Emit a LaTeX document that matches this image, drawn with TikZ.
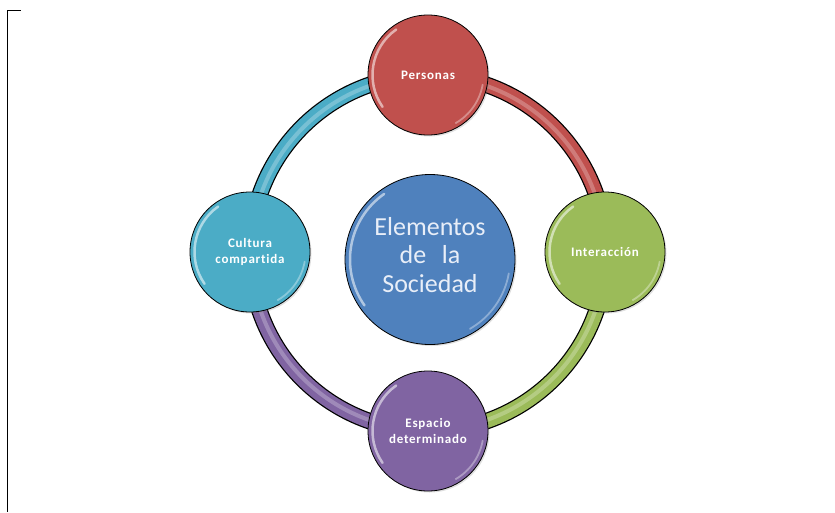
\documentclass[tikz,border=0pt]{standalone}
\usepackage{fontspec}
\setmainfont{Carlito}
\newfontfamily\labfont[LetterSpace=6,Ligatures={NoCommon,NoRare,NoContextual}]{Carlito}
\usetikzlibrary{shadows}
\definecolor{cred}{HTML}{C0504D}
\definecolor{cgreen}{HTML}{9BBB59}
\definecolor{cpurple}{HTML}{8064A2}
\definecolor{ccyan}{HTML}{4BACC6}
\definecolor{cblue}{HTML}{4F81BD}
\definecolor{ctext}{HTML}{E8EEF8}
\tikzset{
  ringblack/.style={black, line width=16.5pt},
  ringcol/.style={line width=14pt},
  ringshine/.style={white, opacity=.25, line width=4pt},
  bubble/.style={circle, draw=black, line width=0.8pt, minimum size=120pt, inner sep=0pt,
    text=white, align=center, font=\labfont\bfseries\fontsize{13}{16}\selectfont,
    drop shadow={opacity=.25, shadow xshift=1.5pt, shadow yshift=-1.5pt}},
  bigbubble/.style={bubble, minimum size=170pt},
  bigtext/.style={text=ctext, align=center, font=\fontsize{26}{28.4}\selectfont},
  shine/.style={white, opacity=.55, line width=2.5pt, line cap=round},
  shinelow/.style={white, opacity=.35, line width=1.8pt, line cap=round}
}
\begin{document}
\begin{tikzpicture}[x=1pt,y=1pt]
\useasboundingbox (0,0) rectangle (835,-512);
\coordinate (tl) at (20.5,-10.3);
\coordinate (tc) at (7.5,-10.3);
\coordinate (bl) at (7.5,-512);
\draw[line width=1pt] (tl) -- (tc) -- (bl);

\coordinate (ringc) at (428,-253);
% ring segments
\foreach \a/\b/\c in {90/0/cred, 0/-90/cgreen, -90/-180/cpurple, 180/90/ccyan}{
  \draw[ringblack] ([shift={(\a:178)}]ringc) arc[start angle=\a, end angle=\b, radius=178];
  \draw[ringcol, draw=\c] ([shift={(\a:178)}]ringc) arc[start angle=\a, end angle=\b, radius=178];
  \draw[ringshine] ([shift={(\a:177)}]ringc) arc[start angle=\a, end angle=\b, radius=177];
}

\node[bubble, fill=cred] (pers) at (428,-75) {Personas};
\node[bubble, fill=cgreen] (inter) at (605,-252) {Interacción};
\node[bubble, fill=cpurple] (esp) at (428,-431) {Espacio\\determinado};
\node[bubble, fill=ccyan] (cult) at (250,-252) {Cultura\\compartida};
\node[bigbubble, fill=cblue] (centro) at (430,-259.5) {};
\node[bigtext] (centrotxt) at (430,-255) {Elementos\\de\hspace{0.6em}la\\Sociedad};

\foreach \n in {pers, inter, esp, cult}{
  \draw[shine] ([shift={(125:55.5)}]\n.center) arc[start angle=125, end angle=215, radius=55.5];
  \draw[shinelow] ([shift={(-10:55.5)}]\n.center) arc[start angle=-10, end angle=-60, radius=55.5];
}
\draw[shine] ([shift={(125:80)}]centro.center) arc[start angle=125, end angle=215, radius=80];
\draw[shinelow] ([shift={(-10:80)}]centro.center) arc[start angle=-10, end angle=-60, radius=80];
\end{tikzpicture}
\end{document}
